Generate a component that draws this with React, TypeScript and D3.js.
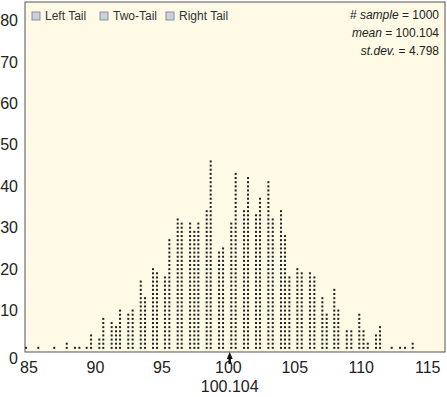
import React from "react";
import * as d3 from "d3";

// column positions (value) and number of dots in each column
const colValues = [
  84.78, 85.7, 86.9, 87.84, 88.46, 88.79, 89.34, 89.67, 90.29, 90.59,
  91.22, 91.55, 91.85, 92.47, 92.8, 93.41, 93.73, 94.33, 94.63, 95.23,
  95.56, 96.19, 96.49, 97.12, 97.44, 97.74, 98.37, 98.67, 99.3, 99.6,
  100.22, 100.55, 101.18, 101.48, 102.08, 102.38, 103.01, 103.34, 103.96, 104.26,
  104.59, 105.19, 105.52, 106.14, 106.47, 107.07, 107.4, 107.97, 108.27, 108.91,
  109.25, 109.85, 110.17, 110.49, 111.11, 111.41, 112.29, 112.92, 113.29, 113.87,
];
const colCounts = [
  1, 1, 1, 2, 1, 1, 1, 4, 3, 8,
  7, 6, 10, 9, 10, 17, 13, 20, 19, 18,
  27, 32, 31, 31, 29, 31, 34, 46, 24, 25,
  31, 43, 34, 42, 33, 37, 41, 32, 34, 28,
  18, 20, 19, 19, 18, 13, 9, 15, 10, 5,
  5, 9, 5, 2, 4, 6, 1, 1, 1, 2,
];

const xTicks = [85, 90, 95, 100, 105, 110, 115];
const yTicks = [0, 10, 20, 30, 40, 50, 60, 70, 80];
const legendItems = ["Left Tail", "Two-Tail", "Right Tail"];
const sampleSize = 1000;
const meanValue = 100.104;
const sdValue = 4.798;

const W = 447;
const H = 397;
const PLOT = { left: 25, right: 445, top: 2, bottom: 352 };
const FONT = "'Liberation Sans', Arial, Helvetica, sans-serif";

const App = () => {
  const x = d3.scaleLinear().domain([84.7, 116.3]).range([PLOT.left, PLOT.right]);
  const y = d3.scaleLinear().domain([0, 84.5]).range([PLOT.bottom, PLOT.top]);

  const dots: { cx: number; cy: number }[] = [];
  colValues.forEach((v, i) => {
    d3.range(1, colCounts[i] + 1).forEach((k) => {
      dots.push({ cx: x(v), cy: y(k) });
    });
  });

  const mx = x(meanValue);
  const legendX = [32, 100, 166];

  return (
    <svg width={W} height={H} style={{ position: "absolute", left: 0, top: 0 }}>
      <rect
        x={PLOT.left}
        y={PLOT.top}
        width={PLOT.right - PLOT.left}
        height={PLOT.bottom - PLOT.top}
        fill="#fefae6"
        stroke="#555"
        strokeWidth={1}
      />

      {dots.map((d, i) => (
        <rect key={i} x={d.cx - 1} y={d.cy - 1} width={2} height={2} fill="#222" />
      ))}

      {/* y labels */}
      {yTicks.map((t) => (
        <text
          key={t}
          x={18}
          y={t === 0 ? 358 : y(t)}
          dy="0.35em"
          textAnchor="end"
          fontFamily={FONT}
          fontSize={16}
          fill="#222"
        >
          {t}
        </text>
      ))}

      {/* x labels */}
      {xTicks.map((t) => (
        <text
          key={t}
          x={x(t)}
          y={373}
          textAnchor="middle"
          fontFamily={FONT}
          fontSize={16}
          fill="#222"
        >
          {t}
        </text>
      ))}

      {/* mean marker */}
      <path
        d={`M${mx},${PLOT.bottom} L${mx - 3},${PLOT.bottom + 7} L${mx - 1.2},${PLOT.bottom + 7} L${mx - 1.2},${PLOT.bottom + 12} L${mx + 1.2},${PLOT.bottom + 12} L${mx + 1.2},${PLOT.bottom + 7} L${mx + 3},${PLOT.bottom + 7} Z`}
        fill="#111"
      />
      <text x={mx} y={392} textAnchor="middle" fontFamily={FONT} fontSize={16} fill="#222">
        {meanValue.toFixed(3)}
      </text>

      {/* legend */}
      {legendItems.map((name, i) => (
        <g key={name}>
          <rect x={legendX[i]} y={12} width={8} height={8} fill="#c9d1dd" stroke="#8a8f99" strokeWidth={1} />
          <text x={legendX[i] + 13} y={20} fontFamily={FONT} fontSize={12} fill="#333">
            {name}
          </text>
        </g>
      ))}

      {/* stats */}
      <text x={439} y={19} textAnchor="end" fontFamily={FONT} fontSize={12} fill="#222">
        # <tspan fontStyle="italic">sample</tspan> = {sampleSize}
      </text>
      <text x={439} y={37} textAnchor="end" fontFamily={FONT} fontSize={12} fill="#222">
        <tspan fontStyle="italic">mean</tspan> = {meanValue.toFixed(3)}
      </text>
      <text x={439} y={55} textAnchor="end" fontFamily={FONT} fontSize={12} fill="#222">
        <tspan fontStyle="italic">st.dev.</tspan> = {sdValue}
      </text>
    </svg>
  );
};

export default App;
